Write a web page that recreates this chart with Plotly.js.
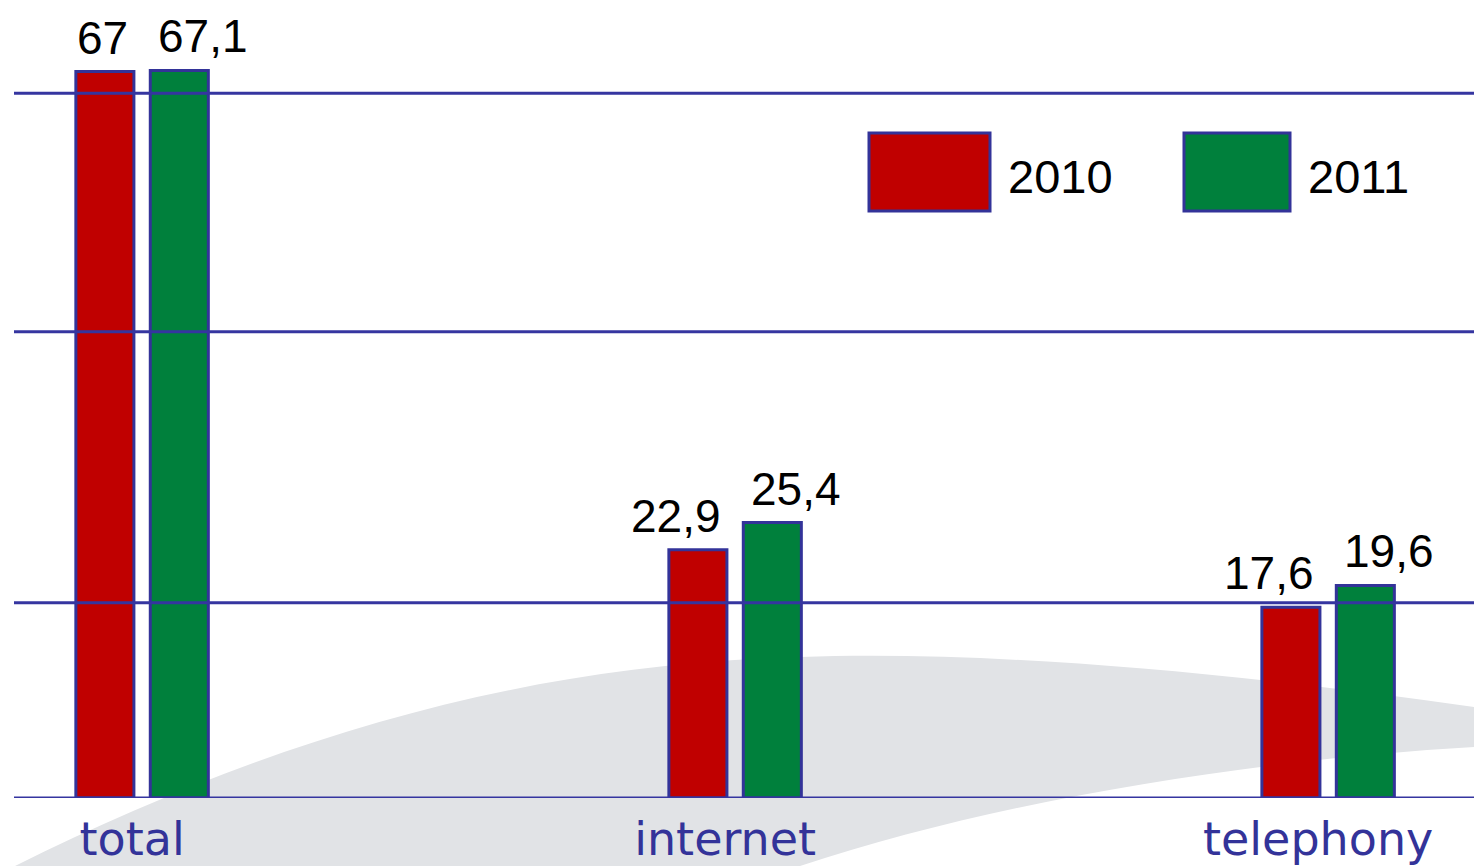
<!DOCTYPE html>
<html>
<head>
<meta charset="utf-8">
<script src="https://cdn.plot.ly/plotly-3.0.1.min.js"></script>
<style>html,body{margin:0;padding:0;background:#fff;}#chart{width:1474px;height:866px;}</style>
</head>
<body>
<div id="chart"></div>
<script>
const categories = ['total', 'internet', 'telephony'];
const seriesNames = ['2010', '2011'];
const values2010 = [67, 22.9, 17.6];
const values2011 = [67.1, 25.4, 19.6];
const gridValues = [0, 18, 43, 65];

const colors = ['#C00000', '#00803C'];
const outline = '#333399';
const labelFont = {family: 'Liberation Sans, Arial, sans-serif', size: 46, color: '#000'};

// plot area in pixels
const L = 14, T = 0, W = 1460, H = 798;
const px = x => (x - L) / W;
const py = y => (T + H - y) / H;
const P = (x, y) => px(x).toFixed(4) + ',' + py(y).toFixed(4);

const fmt = v => String(v).replace('.', ',');
const allSeries = [values2010, values2011];

const traces = allSeries.map((vals, i) => ({
  type: 'bar',
  name: seriesNames[i],
  x: categories,
  y: vals,
  marker: {color: colors[i], line: {color: outline, width: 3}},
  hoverinfo: 'skip'
}));

const shapes = [];
// decorative swoosh
shapes.push({
  type: 'path', xref: 'paper', yref: 'paper', layer: 'below',
  path: 'M' + P(15, 866) + ' C' + P(250, 750) + ' ' + P(500, 665) + ' ' + P(800, 657) +
        ' C' + P(1000, 650) + ' ' + P(1250, 675) + ' ' + P(1474, 707) +
        ' L' + P(1474, 747) +
        ' C' + P(1250, 760) + ' ' + P(1000, 800) + ' ' + P(800, 866) + ' Z',
  fillcolor: '#E1E3E6', line: {width: 0}
});
// gridlines drawn above bars
gridValues.forEach(v => shapes.push({
  type: 'line', xref: 'paper', yref: 'y', x0: 0, x1: 1, y0: v, y1: v,
  layer: 'above', line: {color: '#3535A0', width: 3}
}));

const annotations = [];
// value labels: 2010 ends near its bar's right edge, 2011 starts near its bar's left edge
allSeries.forEach((vals, i) => {
  vals.forEach((v, j) => annotations.push({
    xref: 'x', yref: 'y', x: categories[j], y: v,
    xanchor: i === 0 ? 'right' : 'left', yanchor: 'bottom',
    xshift: i === 0 ? -12 : 14, yshift: 6,
    showarrow: false, text: fmt(v), font: labelFont
  }));
});

// legend boxes
const legendBoxes = [[869, 990], [1184, 1290]];
seriesNames.forEach((name, i) => {
  const [x0, x1] = legendBoxes[i];
  shapes.push({
    type: 'rect', xref: 'paper', yref: 'paper',
    x0: px(x0), x1: px(x1), y0: py(211), y1: py(133),
    fillcolor: colors[i], line: {color: outline, width: 3}, layer: 'above'
  });
  annotations.push({
    xref: 'paper', yref: 'paper', x: px(x1 + 16), y: py(176),
    xanchor: 'left', yanchor: 'middle', showarrow: false, text: name,
    font: {family: 'Liberation Sans, Arial, sans-serif', size: 47, color: '#000'}
  });
});

const layout = {
  width: 1474, height: 866,
  margin: {l: L, r: 1474 - L - W, t: T, b: 866 - T - H, pad: 0},
  paper_bgcolor: '#fff', plot_bgcolor: 'rgba(0,0,0,0)',
  barmode: 'group', bargap: 0.749, bargroupgap: 0.22,
  showlegend: false,
  xaxis: {
    type: 'category', range: [-0.216, 2.246],
    showgrid: false, zeroline: false, showline: false, ticks: '',
    ticklabelstandoff: 10, ticklabelshift: -10,
    tickfont: {family: 'DejaVu Sans, Verdana, sans-serif', size: 46, color: '#333399'}
  },
  yaxis: {
    range: [0, 73.6], showgrid: false, zeroline: false, showline: false,
    showticklabels: false, ticks: ''
  },
  shapes: shapes,
  annotations: annotations
};

Plotly.newPlot('chart', traces, layout, {displayModeBar: false, staticPlot: true});
</script>
</body>
</html>
